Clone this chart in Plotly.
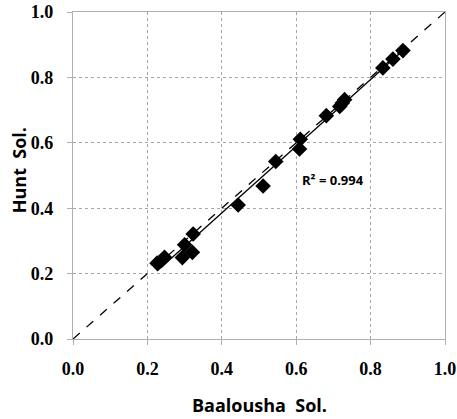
import numpy as np
import plotly.graph_objects as go

# Data
baalousha = [0.226, 0.238, 0.246, 0.294, 0.300, 0.321, 0.323, 0.444, 0.511, 0.545,
             0.609, 0.611, 0.681, 0.717, 0.724, 0.730, 0.833, 0.860, 0.887]
hunt = [0.232, 0.240, 0.250, 0.249, 0.288, 0.265, 0.321, 0.410, 0.468, 0.543,
        0.581, 0.611, 0.683, 0.711, 0.722, 0.732, 0.829, 0.856, 0.882]
tick_vals = [0.0, 0.2, 0.4, 0.6, 0.8, 1.0]
tick_text = ["0.0", "0.2", "0.4", "0.6", "0.8", "1.0"]
r2_label = "R² = 0.994"
x_title = "Baalousha  Sol."
y_title = "Hunt  Sol."

slope, intercept = np.polyfit(baalousha, hunt, 1)
fit_x = [min(baalousha), max(baalousha)]
fit_y = [slope * v + intercept for v in fit_x]

fig = go.Figure()
fig.add_trace(go.Scatter(x=[0, 1], y=[0, 1], mode="lines",
                         line=dict(color="black", width=1.3, dash="dash"), showlegend=False))
fig.add_trace(go.Scatter(x=fit_x, y=fit_y, mode="lines",
                         line=dict(color="black", width=1.3), showlegend=False))
fig.add_trace(go.Scatter(x=baalousha, y=hunt, mode="markers",
                         marker=dict(symbol="diamond", size=12, color="black"),
                         showlegend=False))

tick_font = dict(family="Liberation Serif", size=18, color="black", weight="bold")
axis_common = dict(range=[0, 1], tickvals=tick_vals, ticktext=tick_text,
                   showgrid=True, gridcolor="#a6a6a6", griddash="dot", gridwidth=1,
                   showline=True, linecolor="#b0b0b0", linewidth=1.2, mirror=True,
                   ticks="outside", ticklen=5, tickcolor="#b0b0b0",
                   tickfont=tick_font, zeroline=False, automargin=False)

fig.update_layout(
    width=457, height=419,
    margin=dict(l=73, r=12, t=12, b=80),
    plot_bgcolor="white", paper_bgcolor="white",
    xaxis=dict(**axis_common, ticklabelstandoff=8),
    yaxis=dict(**axis_common, ticklabelstandoff=10),
    font=dict(family="Open Sans", color="black"),
)

title_font = dict(family="Open Sans", size=18, color="black", weight="bold")
fig.add_annotation(text=x_title, xref="paper", yref="paper", x=0.502, y=-0.201,
                   xanchor="center", yanchor="middle", showarrow=False, font=title_font)
fig.add_annotation(text=y_title, xref="paper", yref="paper", x=-0.146, y=0.515,
                   xanchor="center", yanchor="middle", textangle=-90, showarrow=False,
                   font=title_font)
fig.add_annotation(text=r2_label, xref="x", yref="y", x=0.610, y=0.487,
                   xanchor="left", yanchor="middle", showarrow=False,
                   font=dict(family="Open Sans", size=13, color="black", weight="bold"))

fig.write_html("out.html")
